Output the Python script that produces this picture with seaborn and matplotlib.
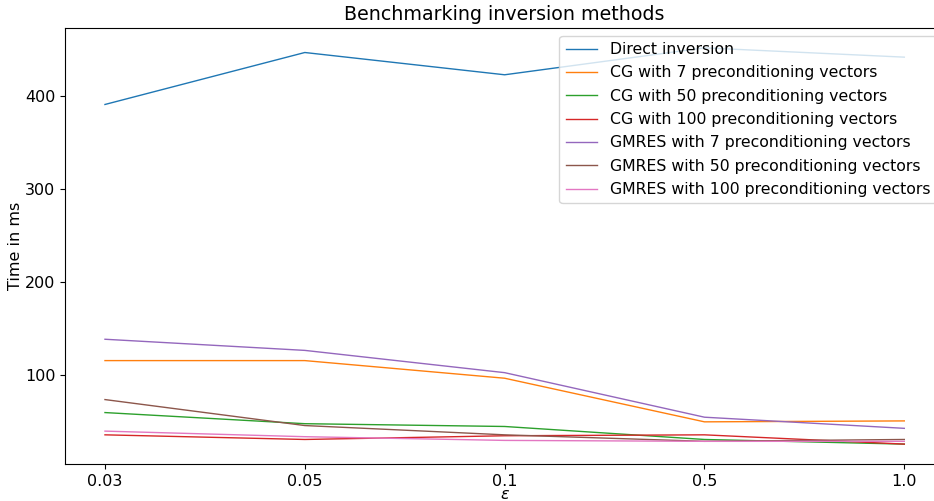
import matplotlib
matplotlib.use("Agg")
from matplotlib import pyplot as plt
import pandas as pd
import seaborn as sns

# x categories (epsilon)
eps = ['0.03', '0.05', '0.1', '0.5', '1.0']

# timings in ms
direct = [391, 447, 423, 452, 442]
cg_7 = [115, 115, 96, 49, 50]
cg_50 = [59, 47, 44, 30, 25]
cg_100 = [35, 30, 34, 35, 25]
gmres_7 = [138, 126, 102, 54, 42]
gmres_50 = [73, 45, 35, 28, 30]
gmres_100 = [39, 33, 29, 28, 28]

names = ['Direct inversion',
         'CG with 7 preconditioning vectors',
         'CG with 50 preconditioning vectors',
         'CG with 100 preconditioning vectors',
         'GMRES with 7 preconditioning vectors',
         'GMRES with 50 preconditioning vectors',
         'GMRES with 100 preconditioning vectors']
series = [direct, cg_7, cg_50, cg_100, gmres_7, gmres_50, gmres_100]

rows = []
for name, vals in zip(names, series):
    for e, v in zip(eps, vals):
        rows.append({'eps': e, 'time': v, 'method': name})
df = pd.DataFrame(rows)

fig, ax = plt.subplots(figsize=(9.34, 5.01), dpi=100)
sns.lineplot(data=df, x='eps', y='time', hue='method', hue_order=names,
             palette='tab10', linewidth=1.0, ax=ax)
ax.set_title('Benchmarking inversion methods', fontsize=13.7)
ax.set_xlabel(r'$\epsilon$', fontsize=11.5)
ax.xaxis.set_label_coords(0.5, -0.053)
ax.set_ylabel('Time in ms', fontsize=11.5, labelpad=1)
ax.tick_params(labelsize=11.5)
ax.legend(loc='upper right', fontsize=11.3, labelspacing=0.53)
fig.subplots_adjust(left=0.0696, right=1.011, top=0.944, bottom=0.074)
plt.savefig('out.png', dpi=100)
